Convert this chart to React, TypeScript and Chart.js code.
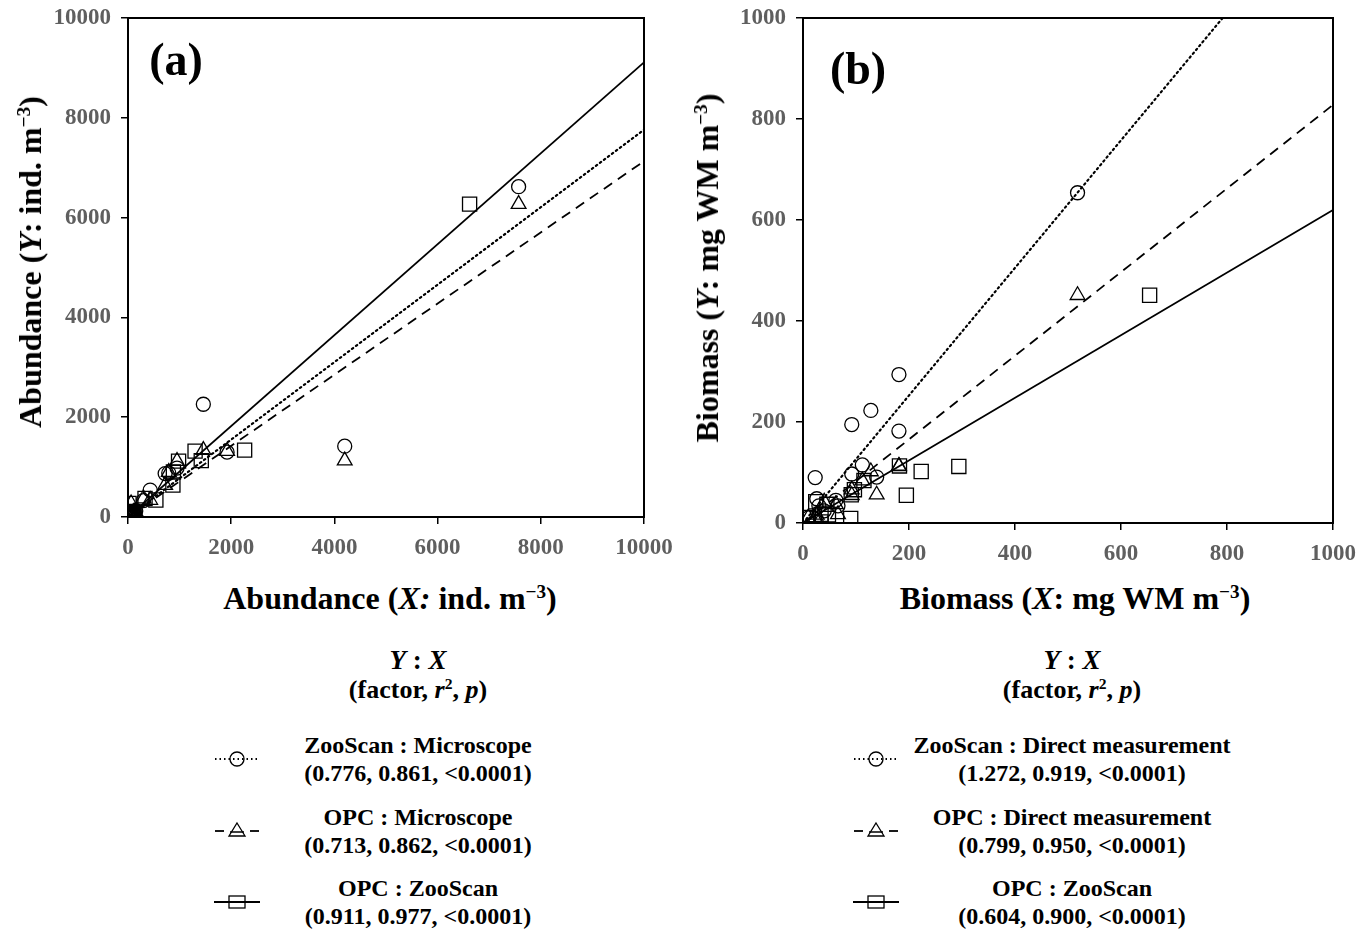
import React, { useEffect, useRef } from "react";
import { Chart, registerables } from "chart.js";

Chart.register(...registerables);

const FONT = "'Liberation Serif', 'Times New Roman', Times, serif";

// ---------- Panel (a): abundance, ind. m^-3 (one entry per sample) ----------
const microscopeA = [7570, 4200, 1460, 1920, 950, 720, 790, 430, 300, 60, 100, 50, 30, 150, 20, 80, 10, 40, 5, 120, 70];
const zooscanA = [6620, 1420, 2260, 1300, 980, 870, 880, 540, 330, 20, 80, 60, 20, 120, 10, 100, 5, 30, 3, 90, 40];
const opcA = [6270, 1130, 1340, 1320, 1120, 640, 900, 340, 370, 270, 90, 40, 30, 100, 15, 60, 8, 50, 2, 110, 35];
const ticksA = [0, 2000, 4000, 6000, 8000, 10000];
// fitted factors: ZooScan:Microscope, OPC:Microscope, OPC:ZooScan
const slopesA = [0.776, 0.713, 0.911];

// ---------- Panel (b): biomass, mg WM m^-3 (one entry per sample) ----------
const directB = [518, 181, 128, 92, 181, 23, 112, 92, 139, 62, 26, 40, 66, 10, 30];
const zooscanB = [654, 294, 223, 195, 182, 90, 115, 97, 91, 45, 48, 24, 34, 10, 34];
const opcB = [451, 112, 102, 55, 113, 9, 84, 66, 56, 37, 16, 42, 17, 11, 2];
const ticksB = [0, 200, 400, 600, 800, 1000];
// fitted lines as drawn: ZooScan:Direct, OPC:Direct, OPC:ZooScan
const slopesB = [1.263, 0.828, 0.62];

const legendA = [
  { name: "ZooScan : Microscope", stats: "(0.776, 0.861, <0.0001)" },
  { name: "OPC : Microscope", stats: "(0.713, 0.862, <0.0001)" },
  { name: "OPC : ZooScan", stats: "(0.911, 0.977, <0.0001)" },
];
const legendB = [
  { name: "ZooScan : Direct measurement", stats: "(1.272, 0.919, <0.0001)" },
  { name: "OPC : Direct measurement", stats: "(0.799, 0.950, <0.0001)" },
  { name: "OPC : ZooScan", stats: "(0.604, 0.900, <0.0001)" },
];

const pairs = (xs: number[], ys: number[]) => xs.map((x, i) => ({ x, y: ys[i] }));

const boxPlugin = {
  id: "boxFrame",
  afterDraw(chart: any) {
    const { ctx, chartArea: a } = chart;
    ctx.save();
    ctx.strokeStyle = "#000";
    ctx.lineWidth = 2;
    ctx.strokeRect(a.left, a.top, a.right - a.left, a.bottom - a.top);
    ctx.restore();
  },
};

function scaleCfg(max: number, ticks: number[], fit: (s: any) => void) {
  return {
    type: "linear",
    min: 0,
    max,
    afterBuildTicks: (s: any) => {
      s.ticks = ticks.map((v) => ({ value: v }));
    },
    afterFit: (s: any) => {
      fit(s);
      s.paddingTop = 0;
      s.paddingBottom = 0;
      s.paddingLeft = 0;
      s.paddingRight = 0;
    },
    ticks: {
      color: "#5f5f5f",
      font: { family: FONT, size: 23, weight: "bold" },
      padding: 10,
      autoSkip: false,
      maxRotation: 0,
      callback: (v: any) => String(v),
    },
    grid: {
      drawOnChartArea: false,
      drawTicks: true,
      tickLength: 7,
      color: "#000",
      lineWidth: 1.5,
    },
    border: { display: false },
  };
}

function buildConfig(
  xs: number[][],
  ys: number[][],
  slopes: number[],
  max: number,
  ticks: number[],
  yWidth: number,
  xHeight: number,
  pad: any
) {
  const dashes = [[1.5, 3.5], [10, 7], []];
  const styles = ["circle", "triangle", "rect"];
  const radii = [7, 8.5, 10];
  const lineDs = slopes.map((s, i) => ({
    data: [
      { x: 0, y: 0 },
      { x: max, y: s * max },
    ],
    showLine: true,
    pointRadius: 0,
    borderColor: "#000",
    borderWidth: i === 0 ? 2.2 : 1.8,
    borderDash: dashes[i],
    borderCapStyle: i === 0 ? "round" : "butt",
    fill: false,
  }));
  const pointDs = xs.map((xArr, i) => ({
    data: pairs(xArr, ys[i]),
    showLine: false,
    pointStyle: styles[i],
    pointRadius: radii[i],
    pointBorderWidth: 1.3,
    pointBorderColor: "#000",
    pointBackgroundColor: "rgba(0,0,0,0)",
    borderColor: "#000",
    backgroundColor: "rgba(0,0,0,0)",
  }));
  return {
    type: "scatter",
    data: { datasets: [...lineDs, ...pointDs] },
    options: {
      animation: false,
      responsive: false,
      maintainAspectRatio: false,
      devicePixelRatio: 1,
      layout: { padding: pad },
      plugins: { legend: { display: false }, tooltip: { enabled: false } },
      events: [],
      scales: {
        x: scaleCfg(max, ticks, (s: any) => {
          s.height = xHeight;
        }),
        y: scaleCfg(max, ticks, (s: any) => {
          s.width = yWidth;
        }),
      },
    },
    plugins: [boxPlugin],
  };
}

function ChartCanvas(props: { left: number; width: number; height: number; config: any }) {
  const ref = useRef<HTMLCanvasElement | null>(null);
  useEffect(() => {
    if (!ref.current) return;
    const chart = new Chart(ref.current, props.config);
    return () => chart.destroy();
  }, []);
  return (
    <canvas
      ref={ref}
      width={props.width}
      height={props.height}
      style={{ position: "absolute", left: props.left, top: 0, width: props.width, height: props.height }}
    />
  );
}

const txt: React.CSSProperties = {
  position: "absolute",
  fontFamily: FONT,
  fontWeight: "bold",
  color: "#000",
  whiteSpace: "nowrap",
  lineHeight: 1,
};

function Center(props: { x: number; y: number; size: number; rotate?: boolean; children: any }) {
  return (
    <div
      style={{
        ...txt,
        left: props.x,
        top: props.y,
        fontSize: props.size,
        transform: `translate(-50%, -50%)${props.rotate ? " rotate(-90deg)" : ""}`,
      }}
    >
      {props.children}
    </div>
  );
}

const supStyle: React.CSSProperties = { fontSize: "0.6em", verticalAlign: "0.55em", lineHeight: 0 };

function Symbol(props: { kind: number; x: number; y: number }) {
  const w = 46;
  const h = 22;
  const c = h / 2;
  let body: any = null;
  if (props.kind === 0) {
    body = (
      <>
        <line x1={1} y1={c} x2={w - 1} y2={c} stroke="#000" strokeWidth={2} strokeDasharray="1.5 3" />
        <circle cx={w / 2} cy={c} r={7} fill="none" stroke="#000" strokeWidth={1.3} />
      </>
    );
  } else if (props.kind === 1) {
    body = (
      <>
        <line x1={1} y1={c} x2={10} y2={c} stroke="#000" strokeWidth={1.8} />
        <line x1={w - 10} y1={c} x2={w - 1} y2={c} stroke="#000" strokeWidth={1.8} />
        <line x1={16} y1={c + 1} x2={w - 16} y2={c + 1} stroke="#000" strokeWidth={1.5} />
        <polygon points={`${w / 2},${c - 8} ${w / 2 + 8},${c + 5} ${w / 2 - 8},${c + 5}`} fill="none" stroke="#000" strokeWidth={1.3} />
      </>
    );
  } else {
    body = (
      <>
        <line x1={0} y1={c} x2={w} y2={c} stroke="#000" strokeWidth={2} />
        <rect x={w / 2 - 8} y={c - 6} width={16} height={12} fill="none" stroke="#000" strokeWidth={1.3} />
      </>
    );
  }
  return (
    <svg width={w} height={h} style={{ position: "absolute", left: props.x - w / 2, top: props.y - h / 2 }}>
      {body}
    </svg>
  );
}

function Legend(props: { cx: number; symX: number; items: { name: string; stats: string }[] }) {
  const rows = [745, 817, 888];
  return (
    <>
      <Center x={props.cx} y={660} size={27}>
        <i>Y</i> : <i>X</i>
      </Center>
      <Center x={props.cx} y={690} size={26}>
        (factor, <i>r</i>
        <span style={supStyle}>2</span>, <i>p</i>)
      </Center>
      {props.items.map((it, i) => (
        <React.Fragment key={i}>
          <Symbol kind={i} x={props.symX} y={rows[i] + 14} />
          <Center x={props.cx} y={rows[i]} size={24}>
            {it.name}
          </Center>
          <Center x={props.cx} y={rows[i] + 28} size={24}>
            {it.stats}
          </Center>
        </React.Fragment>
      ))}
    </>
  );
}

export default function App() {
  const cfgA = buildConfig(
    [microscopeA, microscopeA, zooscanA],
    [zooscanA, opcA, opcA],
    slopesA,
    10000,
    ticksA,
    128,
    53,
    { left: 0, top: 18, right: 36, bottom: 0 }
  );
  const cfgB = buildConfig(
    [directB, directB, zooscanB],
    [zooscanB, opcB, opcB],
    slopesB,
    1000,
    ticksB,
    113,
    57,
    { left: 0, top: 18, right: 37, bottom: 0 }
  );
  return (
    <div style={{ position: "absolute", left: 0, top: 0, width: 1371, height: 931, background: "#fff", overflow: "hidden" }}>
      <ChartCanvas left={0} width={680} height={570} config={cfgA} />
      <ChartCanvas left={690} width={680} height={580} config={cfgB} />

      <Center x={176} y={60} size={46}>(a)</Center>
      <Center x={858} y={69} size={46}>(b)</Center>

      <Center x={30} y={262} size={32} rotate>
        Abundance (<i>Y</i>: ind. m<span style={supStyle}>−3</span>)
      </Center>
      <Center x={390} y={598} size={32}>
        Abundance (<i>X:</i> ind. m<span style={supStyle}>−3</span>)
      </Center>
      <Center x={707} y={268} size={32} rotate>
        Biomass (<i>Y</i>: mg WM m<span style={supStyle}>−3</span>)
      </Center>
      <Center x={1075} y={598} size={32}>
        Biomass (<i>X</i>: mg WM m<span style={supStyle}>−3</span>)
      </Center>

      <Legend cx={418} symX={237} items={legendA} />
      <Legend cx={1072} symX={876} items={legendB} />
    </div>
  );
}
